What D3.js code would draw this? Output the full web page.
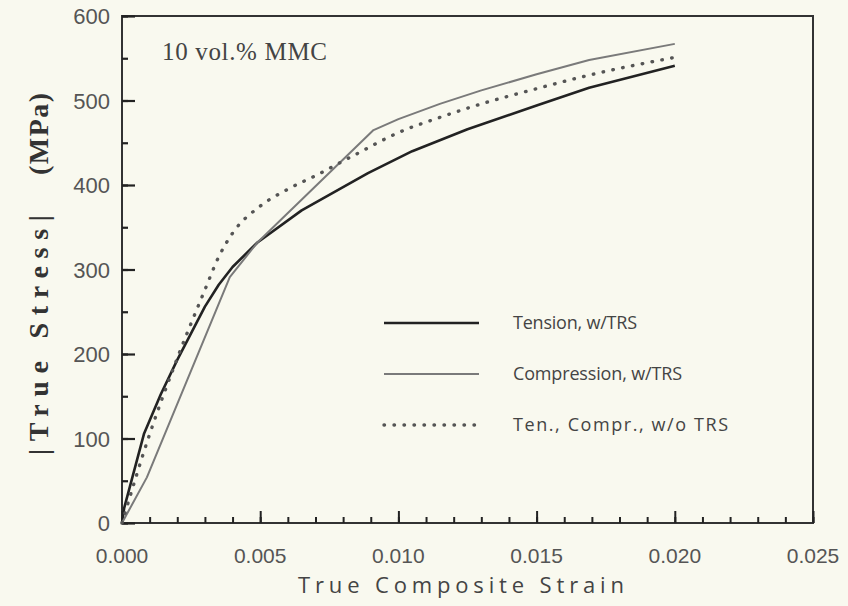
<!DOCTYPE html>
<html lang="en">
<head>
<meta charset="UTF-8">
<title>True stress vs strain</title>
<script src="https://d3js.org/d3.v7.min.js"></script>
<style>
  body { margin: 0; background: #f9f9ef; }
  svg { display: block; }
</style>
</head>
<body>
<div id="chart"></div>
<script>
// data
var tensionStrain = [0, 0.00008, 0.0008, 0.0014, 0.002, 0.003, 0.0035, 0.004, 0.0049, 0.0065, 0.0089, 0.0105, 0.0125, 0.015, 0.0169, 0.020];
var tensionStress = [0, 18, 106, 152, 193, 256, 282, 303, 332, 370, 414, 440, 466, 494, 515, 541];

var comprStrain = [0, 0.0009, 0.0039, 0.0049, 0.0091, 0.0100, 0.0115, 0.0130, 0.0150, 0.0169, 0.020];
var comprStress = [0, 54, 291, 332, 465, 478, 496, 512, 531, 548, 567];

var noTrsStrain = [0, 0.001, 0.002, 0.003, 0.0035, 0.004, 0.005, 0.006, 0.007, 0.0085, 0.010, 0.0115, 0.0129, 0.015, 0.0169, 0.020];
var noTrsStress = [0, 105, 195, 276, 315, 343, 375, 395, 411, 437, 462, 480, 495, 514, 530, 551];

var seriesNames = ["Tension, w/TRS", "Compression, w/TRS", "Ten., Compr., w/o TRS"];
var xTickLabels = ["0.000", "0.005", "0.010", "0.015", "0.020", "0.025"];
var yTickLabels = ["0", "100", "200", "300", "400", "500", "600"];

var width = 848, height = 606;
var margin = {top: 16, right: 35, bottom: 83, left: 122};

var svg = d3.select("#chart").append("svg")
    .attr("width", width)
    .attr("height", height);

var x = d3.scaleLinear().domain([0, 0.025]).range([margin.left, width - margin.right]);
var y = d3.scaleLinear().domain([0, 600]).range([height - margin.bottom, margin.top]);

// frame
svg.append("rect")
    .attr("x", x(0)).attr("y", y(600))
    .attr("width", x(0.025) - x(0)).attr("height", y(0) - y(600))
    .attr("fill", "none").attr("stroke", "#333").attr("stroke-width", 2);

// inward ticks via d3 axes (minor then major)
function tickAxis(axis, values, size) {
    return axis.tickValues(values).tickSize(-size).tickFormat("");
}
var xMinor = d3.range(0, 26).map(function(i) { return i * 0.001; });
var yMinor = d3.range(0, 13).map(function(i) { return i * 50; });

[[xMinor, 6], [xTickLabels.map(Number), 12]].forEach(function(t) {
    var g = svg.append("g")
        .attr("transform", "translate(0," + y(0) + ")")
        .call(tickAxis(d3.axisBottom(x), t[0], t[1]));
    g.select(".domain").remove();
    g.selectAll("line").attr("stroke", "#222").attr("stroke-width", 2);
});
[[yMinor, 6], [yTickLabels.map(Number), 13]].forEach(function(t) {
    var g = svg.append("g")
        .attr("transform", "translate(" + x(0) + ",0)")
        .call(tickAxis(d3.axisLeft(y), t[0], t[1]));
    g.select(".domain").remove();
    g.selectAll("line").attr("stroke", "#222").attr("stroke-width", 2.2);
});

// tick labels
svg.append("g").selectAll("text").data(xTickLabels).join("text")
    .attr("x", function(d) { return x(+d); })
    .attr("y", y(0) + 40)
    .attr("text-anchor", "middle")
    .attr("font-family", "'Liberation Sans', sans-serif")
    .attr("font-size", 21)
    .attr("fill", "#555")
    .text(function(d) { return d; });

svg.append("g").selectAll("text").data(yTickLabels).join("text")
    .attr("x", x(0) - 12)
    .attr("y", function(d) { return y(+d) + 8; })
    .attr("text-anchor", "end")
    .attr("font-family", "'Liberation Sans', sans-serif")
    .attr("font-size", 22)
    .attr("fill", "#555")
    .text(function(d) { return d; });

// axis titles
svg.append("text")
    .attr("x", 461).attr("y", 593)
    .attr("text-anchor", "middle")
    .attr("font-family", "'Open Sans', sans-serif")
    .attr("font-size", 22)
    .attr("fill", "#444")
    .attr("textLength", 326)
    .text("True Composite Strain");

svg.append("text")
    .attr("transform", "translate(48,455) rotate(-90)")
    .attr("font-family", "'Liberation Serif', serif")
    .attr("font-weight", "bold")
    .attr("font-size", 28)
    .attr("fill", "#333")
    .attr("textLength", 240)
    .text("|True Stress|");

svg.append("text")
    .attr("transform", "translate(48,175) rotate(-90)")
    .attr("font-family", "'Liberation Serif', serif")
    .attr("font-weight", "bold")
    .attr("font-size", 28)
    .attr("fill", "#333")
    .attr("textLength", 82)
    .text("(MPa)");

// annotation
svg.append("text")
    .attr("x", 162).attr("y", 60)
    .attr("font-family", "'Liberation Serif', serif")
    .attr("font-size", 25)
    .attr("fill", "#444")
    .attr("textLength", 165)
    .text("10 vol.% MMC");

// curves
var series = [
    {name: seriesNames[0], xs: tensionStrain, ys: tensionStress, color: "#222", w: 2.6, dash: null, cap: "butt", curve: d3.curveLinear},
    {name: seriesNames[1], xs: comprStrain, ys: comprStress, color: "#7a7a7a", w: 2, dash: null, cap: "butt", curve: d3.curveLinear},
    {name: seriesNames[2], xs: noTrsStrain, ys: noTrsStress, color: "#555", w: 3.4, dash: "0.5,9.5", cap: "round", curve: d3.curveMonotoneX}
];

series.forEach(function(s) {
    var pts = s.xs.map(function(v, i) { return [v, s.ys[i]]; });
    var line = d3.line()
        .x(function(d) { return x(d[0]); })
        .y(function(d) { return y(d[1]); })
        .curve(s.curve);
    svg.append("path")
        .datum(pts)
        .attr("d", line)
        .attr("fill", "none")
        .attr("stroke", s.color)
        .attr("stroke-width", s.w)
        .attr("stroke-linecap", s.cap)
        .attr("stroke-linejoin", "round")
        .attr("stroke-dasharray", s.dash);
});

// legend
var legendY = [323, 374, 425];
var legendLen = [124, 169, 215];
var legend = svg.append("g").selectAll("g").data(series).join("g")
    .attr("transform", function(d, i) { return "translate(0," + legendY[i] + ")"; });

legend.append("line")
    .attr("x1", 384).attr("x2", 479)
    .attr("stroke", function(d) { return d.color; })
    .attr("stroke-width", function(d) { return d.w; })
    .attr("stroke-linecap", function(d) { return d.cap; })
    .attr("stroke-dasharray", function(d) { return d.dash; });

legend.append("text")
    .attr("x", 513).attr("y", 6)
    .attr("font-family", "'Open Sans', sans-serif")
    .attr("font-size", 18)
    .attr("fill", "#444")
    .attr("textLength", function(d, i) { return legendLen[i]; })
    .text(function(d) { return d.name; });
</script>
</body>
</html>
